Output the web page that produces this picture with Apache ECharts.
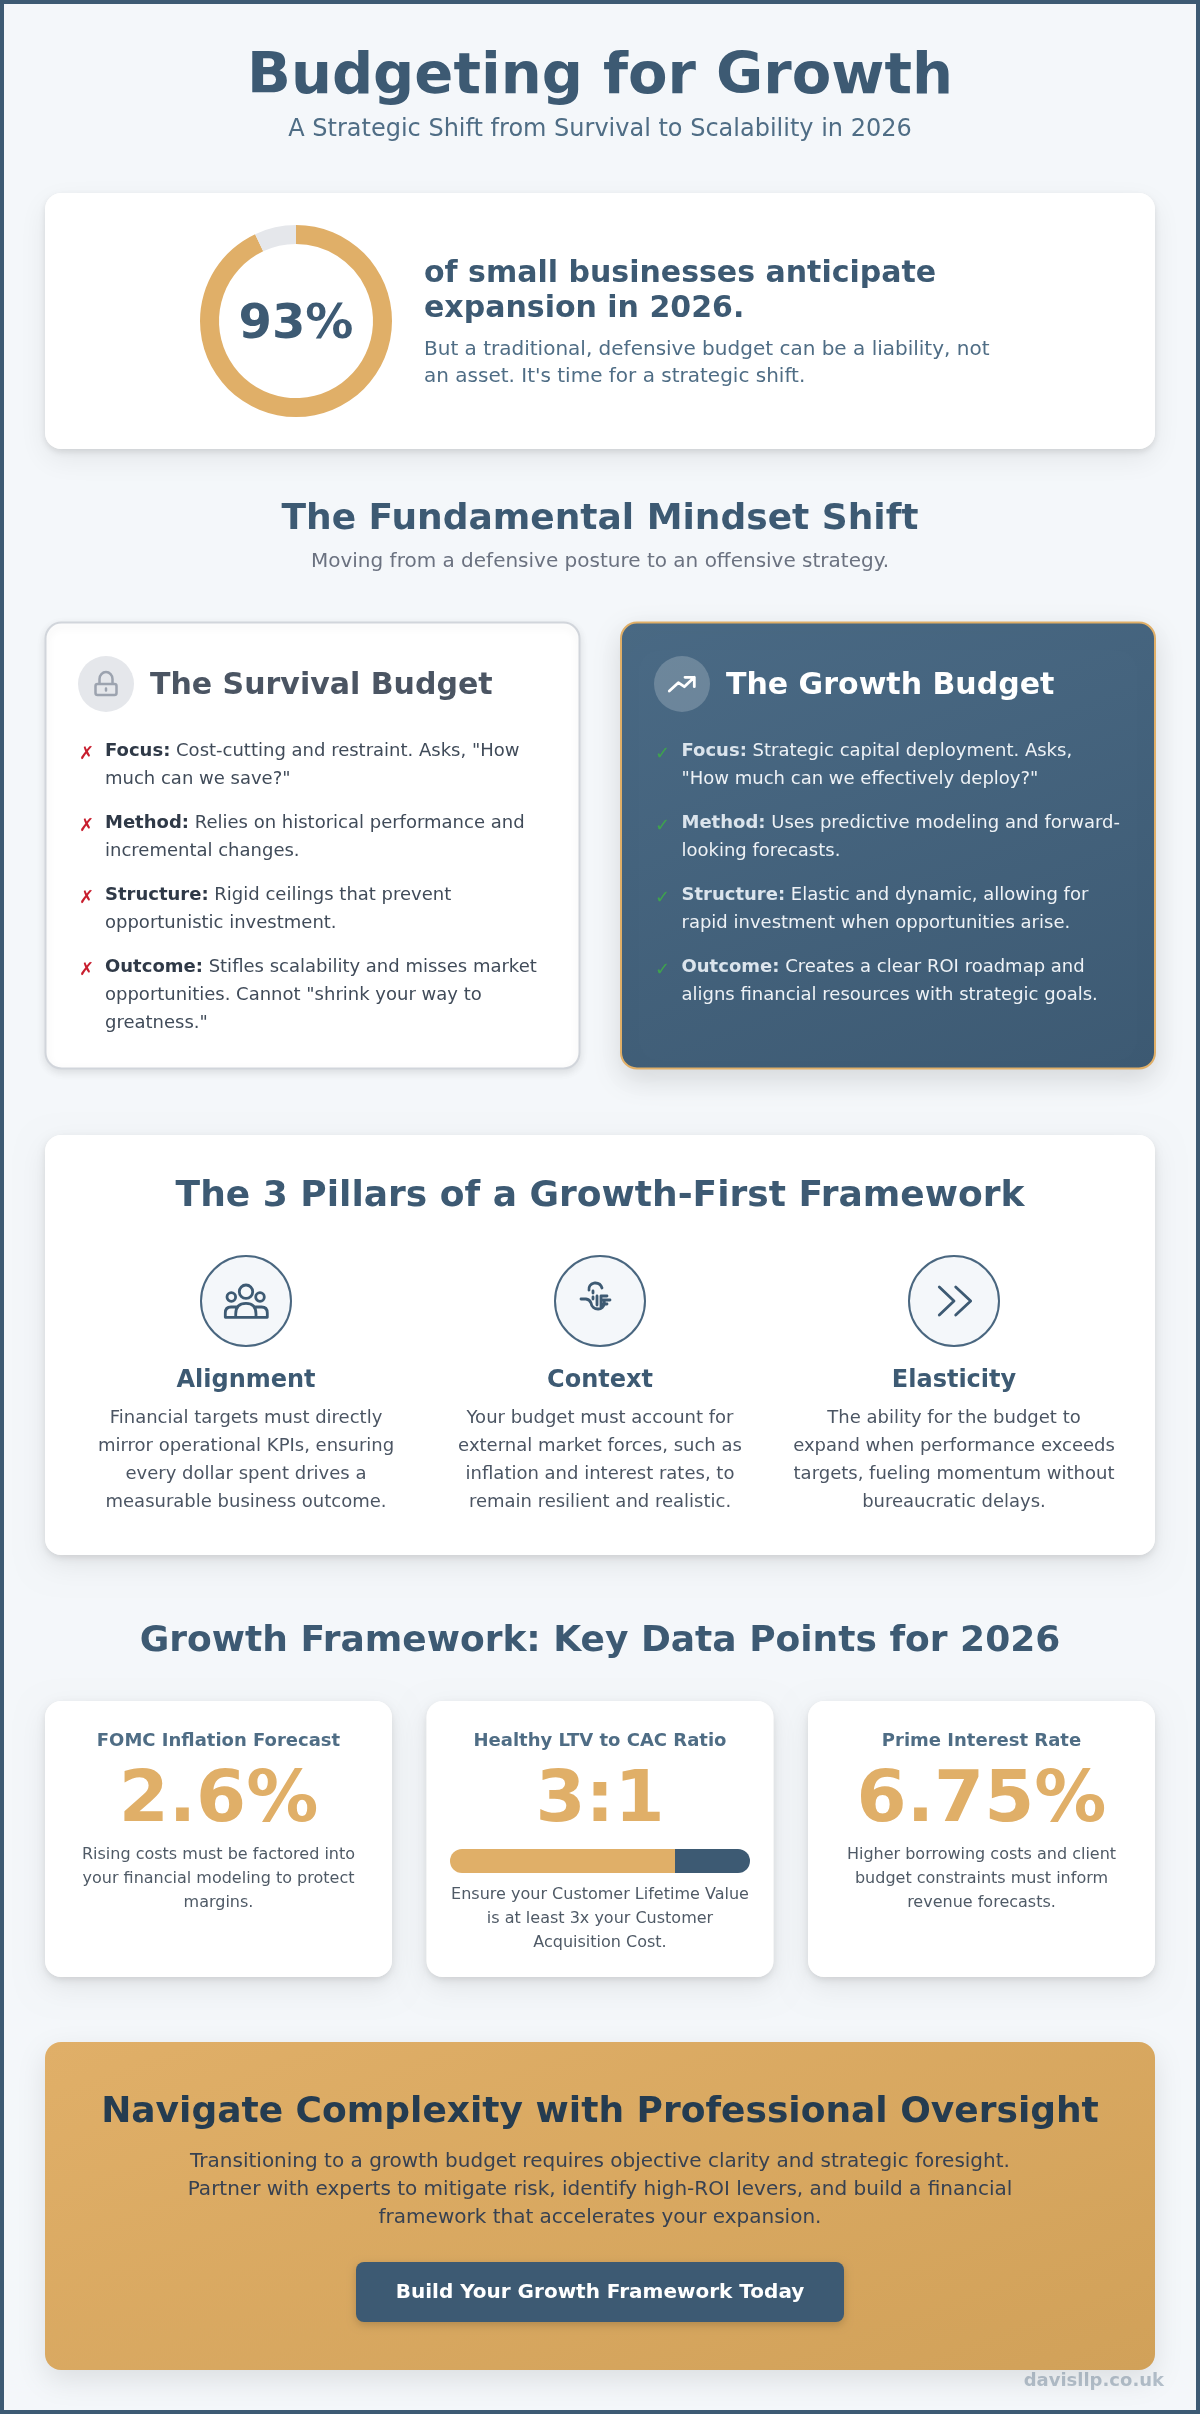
<!DOCTYPE html>
<html><head><meta charset="utf-8">
<style>html,body{margin:0;padding:0;background:#f4f7fa}#c{width:1200px;height:2414px}</style>
<script src="https://cdn.jsdelivr.net/npm/echarts@6/dist/echarts.min.js"></script>
</head><body><div id="c"></div>
<script>
// ---------- data ----------
const donutValues = [93, 7];
const ratioParts = [3, 1];
const survivalLeads = ['Focus:', 'Method:', 'Structure:', 'Outcome:'];
const survivalLines = [
  [' Cost-cutting and restraint. Asks, "How', 'much can we save?"'],
  [' Relies on historical performance and', 'incremental changes.'],
  [' Rigid ceilings that prevent', 'opportunistic investment.'],
  [' Stifles scalability and misses market', 'opportunities. Cannot "shrink your way to', 'greatness."']
];
const growthLines = [
  [' Strategic capital deployment. Asks,', '"How much can we effectively deploy?"'],
  [' Uses predictive modeling and forward-', 'looking forecasts.'],
  [' Elastic and dynamic, allowing for', 'rapid investment when opportunities arise.'],
  [' Creates a clear ROI roadmap and', 'aligns financial resources with strategic goals.']
];
const pillarNames = ['Alignment', 'Context', 'Elasticity'];
const pillarLines = [
  ['Financial targets must directly', 'mirror operational KPIs, ensuring', 'every dollar spent drives a', 'measurable business outcome.'],
  ['Your budget must account for', 'external market forces, such as', 'inflation and interest rates, to', 'remain resilient and realistic.'],
  ['The ability for the budget to', 'expand when performance exceeds', 'targets, fueling momentum without', 'bureaucratic delays.']
];
const statTitles = ['FOMC Inflation Forecast', 'Healthy LTV to CAC Ratio', 'Prime Interest Rate'];
const statValues = ['2.6%', '3:1', '6.75%'];
const statLines = [
  ['Rising costs must be factored into', 'your financial modeling to protect', 'margins.'],
  ['Ensure your Customer Lifetime Value', 'is at least 3x your Customer', 'Acquisition Cost.'],
  ['Higher borrowing costs and client', 'budget constraints must inform', 'revenue forecasts.']
];
const ctaLines = ['Transitioning to a growth budget requires objective clarity and strategic foresight.', 'Partner with experts to mitigate risk, identify high-ROI levers, and build a financial', 'framework that accelerates your expansion.'];

// ---------- helpers ----------
const FF = '"DejaVu Sans"';
const NAVY = '#3d5a73', GOLD = '#e0af68', BG = '#f4f7fa';
const g = [];
const font = (s, b) => (b ? 'bold ' : '') + s + 'px ' + FF;
function T(text, x, y, size, fill, bold, align, extra) {
  g.push({ type: 'text', z: 20, silent: true, style: Object.assign({ x, y, text, font: font(size, bold), fill, textAlign: align || 'center', textVerticalAlign: 'middle' }, extra || {}) });
}
function R(x, y, w, h, r, fill, extra, z) {
  g.push({ type: 'rect', z: z || 2, silent: true, shape: { x, y, width: w, height: h, r }, style: Object.assign({ fill }, extra || {}) });
}
function card(x, y, w, h, r) {
  R(x, y, w, h, r, '#fff', { shadowBlur: 28, shadowOffsetY: 10, shadowColor: 'rgba(0,0,0,0.07)' }, 1);
  R(x, y, w, h, r, '#fff', { shadowBlur: 6, shadowOffsetY: 3, shadowColor: 'rgba(0,0,0,0.10)' }, 1);
}
// CSS-like angled gradient across a box
function gradAngle(deg, x, y, w, h, c0, c1) {
  const a = deg * Math.PI / 180, sx = Math.sin(a), sy = -Math.cos(a);
  const len = Math.abs(w * sx) + Math.abs(h * sy), cx = x + w / 2, cy = y + h / 2;
  return new echarts.graphic.LinearGradient(cx - sx * len / 2, cy - sy * len / 2, cx + sx * len / 2, cy + sy * len / 2, [{ offset: 0, color: c0 }, { offset: 1, color: c1 }], true);
}
let iconId = 0;
function P(d, stroke, lw) {
  const name = 'icon' + (iconId++);
  echarts.graphic.registerShape(name, echarts.graphic.extendPath(d, {}));
  g.push({ type: name, z: 15, silent: true,
    style: { fill: 'none', stroke, lineWidth: lw, lineCap: 'round', lineJoin: 'round' } });
}
function lead(x, y, leadText, restText, size, fillB, fillR) {
  T('{b|' + leadText + '}{r|' + restText + '}', x, y, size, fillR, false, 'left', {
    rich: { b: { font: font(size, true), fill: fillB }, r: { font: font(size, false), fill: fillR } } });
}

// header
T('Budgeting for Growth', 600, 78, 57.6, NAVY, true);
T('A Strategic Shift from Survival to Scalability in 2026', 600, 130, 24, '#4f6d85', false);

// hero card
card(45, 193, 1110, 256, 16);
T('93%', 296, 326, 48, NAVY, true);
T('of small businesses anticipate', 424, 274, 30, NAVY, true, 'left');
T('expansion in 2026.', 424, 309, 30, NAVY, true, 'left');
T('But a traditional, defensive budget can be a liability, not', 424, 350, 20, '#4f6d85', false, 'left');
T("an asset. It's time for a strategic shift.", 424, 377, 20, '#4f6d85', false, 'left');

// mindset
T('The Fundamental Mindset Shift', 600, 520, 36, NAVY, true);
T('Moving from a defensive posture to an offensive strategy.', 600, 562, 20, '#6b7280', false);

// survival card
R(45.5, 622.5, 534, 446, 16, '#fff', { stroke: '#d1d5db', lineWidth: 2, shadowBlur: 8, shadowOffsetY: 3, shadowColor: 'rgba(0,0,0,0.10)' }, 1);
g.push({ type: 'circle', z: 3, silent: true, shape: { cx: 106, cy: 684, r: 28 }, style: { fill: '#e5e7eb' } });
T('The Survival Budget', 150, 686, 30, '#4b5563', true, 'left');
P('M95.5 686 a2 2 0 0 1 2 -2 h17 a2 2 0 0 1 2 2 v7 a2 2 0 0 1 -2 2 h-17 a2 2 0 0 1 -2 -2 Z M99.5 684 v-5 a6.5 7 0 0 1 13 0 v5 M106 688.5 v2', '#9ca3af', 2.5);

const y0 = 751;
survivalLines.forEach((ls, i) => {
  const y = y0 + i * 72;
  T('\u2717', 79, y + 3, 18, '#c81e2e', false, 'left');
  ls.forEach((l, j) => {
    if (j === 0) lead(105, y, survivalLeads[i], l, 18, '#2f3947', '#404b59');
    else T(l, 105, y + j * 28, 18, '#404b59', false, 'left');
  });
});

// growth card
R(621, 622.5, 534, 446, 16, gradAngle(160, 621, 622.5, 534, 446, '#4a6a85', '#3d5a73'),
  { stroke: GOLD, lineWidth: 2, shadowBlur: 28, shadowOffsetY: 10, shadowColor: 'rgba(0,0,0,0.13)' }, 1);
g.push({ type: 'circle', z: 3, silent: true, shape: { cx: 682, cy: 684, r: 28 }, style: { fill: 'rgba(255,255,255,0.2)' } });
T('The Growth Budget', 726, 686, 30, '#fff', true, 'left');
P('M669.3 691 L678.3 682.7 L684.3 686.700 L694.3 677.3 M685 677.3 H694.3 V686.7', '#fff', 2.8);
growthLines.forEach((ls, i) => {
  const y = y0 + i * 72;
  T('\u2713', 655, y + 3, 18, '#3fa34d', false, 'left');
  ls.forEach((l, j) => {
    if (j === 0) lead(681.5, y, survivalLeads[i], l, 18, '#dbe4ec', '#eef2f6');
    else T(l, 681.5, y + j * 28, 18, '#eef2f6', false, 'left');
  });
});

// pillars
card(45, 1135, 1110, 420, 16);
T('The 3 Pillars of a Growth-First Framework', 600, 1197, 36, NAVY, true);
const pillarX = [246, 600, 954];
pillarX.forEach((x, i) => {
  g.push({ type: 'circle', z: 3, silent: true, shape: { cx: x, cy: 1301, r: 45 }, style: { fill: BG, stroke: '#4a6780', lineWidth: 2 } });
  T(pillarNames[i], x, 1381, 24, NAVY, true);
  pillarLines[i].forEach((l, j) => T(l, x, 1418 + j * 28.1, 18, '#4b5563', false));
});
// people icon
P('M225.3 1317.3 H267.3 M246 1285 a6.700 6.700 0 1 0 0.01 0 Z M231.300 1292.700 a4.300 4.300 0 1 0 0.01 0 Z M260 1292.700 a4.300 4.300 0 1 0 0.01 0 Z M235.700 1317.300 V1314 Q235.700 1303.300 246 1303.300 Q256 1303.300 256 1314 V1317.300 M225.300 1317.300 V1313 Q225.300 1307 231 1307 H236.500 M267.300 1317.300 V1313 Q267.300 1307 261.500 1307 H255.500', NAVY, 2.8);
// plug-like icon
P('M589 1290 a6 6 0 0 1 6 -7 a7 7 0 0 1 7 5 M593 1291 v2 M593 1297 v2 M581 1299 h5 a6 6 0 0 1 5 4 a7 7 0 0 0 7 6 a6 6 0 0 0 6 -8 M597 1296 v9 M601 1296 v11 M601 1296 h6 M601 1300 h9 M601 1304 h6', NAVY, 2.8);
// chevrons
P('M939.3 1287 L954 1301 L939.3 1315 M955.7 1287 L970.7 1301 L955.7 1315', NAVY, 2.8);

// key data
T('Growth Framework: Key Data Points for 2026', 600, 1642, 36, NAVY, true);
const statX = [45, 426.5, 808];
statX.forEach((x, i) => {
  const cx = x + 173.5;
  card(x, 1701, 347, 276, 16);
  T(statTitles[i], cx, 1741, 18, '#4f6d85', true);
  T(statValues[i], cx, 1802, 72, GOLD, true);
  statLines[i].forEach((l, j) => T(l, cx, (i === 1 ? 1894.5 : 1854.5) + j * 24, 16, '#4f5a66', false));
});

// CTA
R(45, 2042, 1110, 328, 16, gradAngle(160, 45, 2042, 1110, 328, GOLD, '#d1a159'),
  { shadowBlur: 28, shadowOffsetY: 10, shadowColor: 'rgba(0,0,0,0.10)' }, 1);
T('Navigate Complexity with Professional Oversight', 600, 2113, 36, '#253c50', true);
ctaLines.forEach((l, j) => T(l, 600, 2161.5 + j * 28, 20, '#374151', false));
R(356, 2262, 488, 60, 8, NAVY, { shadowBlur: 8, shadowOffsetY: 3, shadowColor: 'rgba(0,0,0,0.18)' }, 3);
T('Build Your Growth Framework Today', 600, 2293, 20, '#fff', true);
T('davisllp.co.uk', 1164, 2381, 18, 'rgba(61,90,115,0.35)', true, 'right');

// frame
R(2, 2, 1196, 2410, 0, 'none', { stroke: NAVY, lineWidth: 4 }, 40);

const chart = echarts.init(document.getElementById('c'), null, { renderer: 'canvas' });
chart.setOption({
  animation: false,
  backgroundColor: BG,
  graphic: { elements: g },
  grid: { left: 450, top: 1849, width: 300, height: 24, containLabel: false },
  xAxis: { type: 'value', min: 0, max: ratioParts[0] + ratioParts[1], show: false },
  yAxis: { type: 'category', data: ['LTV:CAC'], show: false },
  series: [
    { type: 'pie', z: 5, silent: true, center: [296, 321], radius: [77, 96], startAngle: 90, clockwise: true,
      label: { show: false }, labelLine: { show: false },
      data: donutValues.map((v, i) => ({ value: v, itemStyle: { color: i === 0 ? GOLD : '#e5e7eb' } })) },
    { type: 'bar', z: 5, silent: true, stack: 'r', barWidth: 24, data: [ratioParts[0]], itemStyle: { color: GOLD, borderRadius: [12, 0, 0, 12] } },
    { type: 'bar', z: 5, silent: true, stack: 'r', barWidth: 24, data: [ratioParts[1]], itemStyle: { color: NAVY, borderRadius: [0, 12, 12, 0] } }
  ]
});
</script></body></html>
